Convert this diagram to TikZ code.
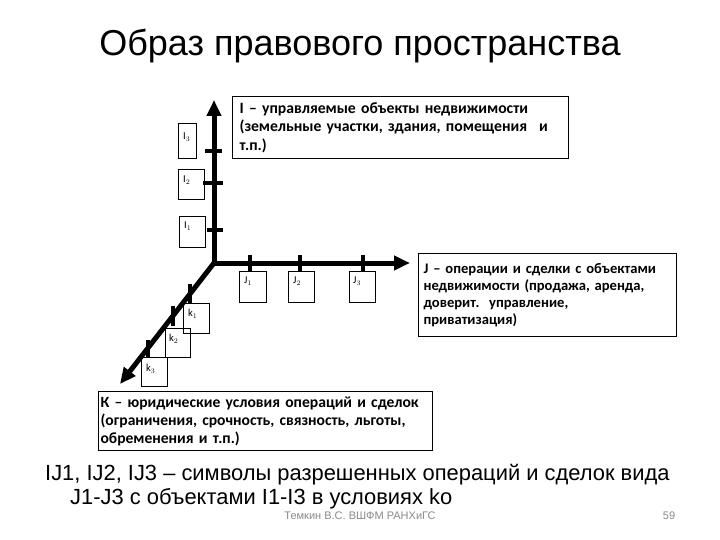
\documentclass[tikz,border=0pt]{standalone}
\usepackage{fontspec}
\setmainfont{Liberation Sans}
\newfontfamily\calfont{Carlito}
\usetikzlibrary{arrows.meta}
\definecolor{footgrey}{HTML}{8A8A8A}
\begin{document}
\begin{tikzpicture}[x=1pt,y=-1pt,
  axis/.style={line width=5pt,-{Triangle[length=16pt,width=14pt]}},
  tickline/.style={line width=3.5pt},
  lbl/.style={draw,line width=0.7pt,inner sep=0pt,anchor=north west},
  sublbl/.style={font=\calfont\fontsize{10.5}{12}\selectfont,anchor=north west,inner sep=0pt},
  desc/.style={draw,line width=1.2pt,anchor=north west,align=left,inner ysep=0pt}
]
\useasboundingbox (0,0) rectangle (720,540);
\fill[white] (0,0) rectangle (720,540);

% title
\node[font=\fontsize{36}{42}\selectfont,anchor=base] (title) at (360,56) {Образ правового пространства};

% axes
\coordinate (O) at (214,263);
\coordinate (Itop) at (214,100);
\coordinate (Jend) at (410,263);
\coordinate (Kend) at (120,384);
\draw[axis] (214,265.5) -- (Itop);
\draw[axis] (O) -- (Jend);
\draw[axis] (O) -- (Kend);

% ticks
\draw[tickline] (205,151) -- (222,151);
\draw[tickline] (203,183) -- (223,183);
\draw[tickline] (207,230) -- (223,230);
\draw[tickline] (250,255) -- (250,271);
\draw[tickline] (300,255) -- (300,271);
\draw[tickline] (363,255) -- (363,271);
\draw[tickline] (190,284) -- (190,303);
\draw[tickline] (173,306) -- (173,326);
\draw[tickline] (148,340) -- (148,357);

% small label boxes
\node[lbl,minimum width=18pt,minimum height=35pt] (bI3) at (178,123) {};
\node[lbl,minimum width=26pt,minimum height=30pt] (bI2) at (178,169) {};
\node[lbl,minimum width=26pt,minimum height=31pt] (bI1) at (179,216) {};
\node[lbl,minimum width=27pt,minimum height=31pt] (bJ1) at (239,271) {};
\node[lbl,minimum width=26pt,minimum height=31pt] (bJ2) at (288,271) {};
\node[lbl,minimum width=26pt,minimum height=31pt] (bJ3) at (349,271) {};
\node[lbl,minimum width=26pt,minimum height=30pt] (bk1) at (183,303) {};
\node[lbl,minimum width=25pt,minimum height=29pt] (bk2) at (165,328) {};
\node[lbl,minimum width=26pt,minimum height=29pt] (bk3) at (141,357) {};

\node[sublbl] (tI3) at (183,133) {I$_3$};
\node[sublbl] (tI2) at (183,176) {I$_2$};
\node[sublbl] (tI1) at (184,222) {I$_1$};
\node[sublbl] (tJ1) at (244,277) {J$_1$};
\node[sublbl] (tJ2) at (293,277) {J$_2$};
\node[sublbl] (tJ3) at (353,277) {J$_3$};
\node[sublbl] (tk1) at (188,309) {k$_1$};
\node[sublbl] (tk2) at (169,334) {k$_2$};
\node[sublbl] (tk3) at (146,364) {k$_3$};

% description boxes
\node[desc,inner xsep=7pt,text width=322pt,minimum height=62pt,
  font=\calfont\bfseries\fontsize{15.7}{18.5}\selectfont] (dI) at (232,96)
  {I – управляемые объекты недвижимости\\(земельные участки, здания, помещения\hspace{12pt}и\\т.п.)};
\node[desc,inner xsep=5pt,text width=248pt,minimum height=83pt,
  font=\calfont\bfseries\fontsize{14.6}{16.7}\selectfont] (dJ) at (418,253)
  {J – операции и сделки с объектами\\недвижимости (продажа, аренда,\\доверит.~~управление,\\приватизация)};
\node[desc,inner xsep=2pt,text width=330pt,minimum height=59pt,
  font=\calfont\bfseries\fontsize{15.6}{18}\selectfont] (dK) at (98,391)
  {К – юридические условия операций и сделок\\(ограничения, срочность, связность, льготы,\\обременения и т.п.)};

% bottom text
\node[font=\fontsize{21.9}{24}\selectfont,anchor=base west,inner sep=0pt] (note1) at (45,480)
  {IJ1, IJ2, IJ3 – символы разрешенных операций и сделок вида};
\node[font=\fontsize{21.9}{24}\selectfont,anchor=base west,inner sep=0pt] (note2) at (70,504)
  {J1-J3 с объектами I1-I3 в условиях ko};
\node[font=\fontsize{11}{13}\selectfont,text=footgrey,anchor=base] (foot) at (360,519)
  {Темкин В.С. ВШФМ РАНХиГС};
\node[font=\fontsize{11}{13}\selectfont,text=footgrey,anchor=base] (page) at (669,519) {59};
\end{tikzpicture}
\end{document}
